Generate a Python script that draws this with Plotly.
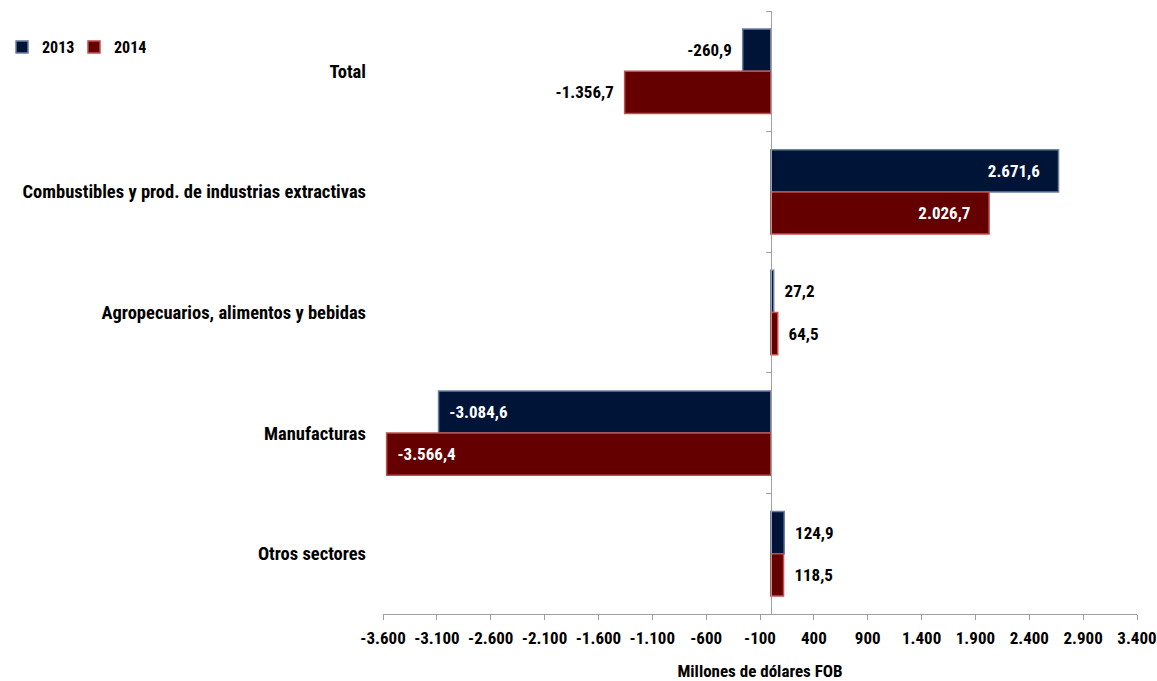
import plotly.graph_objects as go

categories = ["Total", "Combustibles y prod. de industrias extractivas",
              "Agropecuarios, alimentos y bebidas", "Manufacturas", "Otros sectores"]
v2013 = [-260.9, 2671.6, 27.2, -3084.6, 124.9]
v2014 = [-1356.7, 2026.7, 64.5, -3566.4, 118.5]
series_names = ["2013", "2014"]
tick_values = [-3600, -3100, -2600, -2100, -1600, -1100, -600, -100, 400, 900, 1400, 1900, 2400, 2900, 3400]
tick_labels = ["-3.600", "-3.100", "-2.600", "-2.100", "-1.600", "-1.100", "-600", "-100",
               "400", "900", "1.400", "1.900", "2.400", "2.900", "3.400"]
label_pos = ["outside", "inside", "outside", "inside", "outside"]

FONT = "Liberation Sans Narrow, Arial Narrow, Roboto Condensed, DejaVu Sans Condensed, sans-serif"
NB = "\u00a0"


def fmt(v):
    s = f"{v:,.1f}"
    return s.replace(",", "X").replace(".", ",").replace("X", ".")


def padded(v, pos):
    t = fmt(v)
    if pos == "inside":
        return t + NB * 4 if v >= 0 else NB * 2 + t
    return NB * 2 + t if v >= 0 else t + NB * 2


colors = ["#001438", "#640000"]
edge = ["#6b7ea6", "#c0504d"]

fig = go.Figure()
for name, vals, c, e in zip(series_names, [v2013, v2014], colors, edge):
    fig.add_trace(go.Bar(
        y=categories, x=vals, name=name, orientation="h",
        marker=dict(color=c, line=dict(color=e, width=1.5)),
        text=[padded(v, p) for v, p in zip(vals, label_pos)], textposition=label_pos,
        insidetextanchor="end",
        insidetextfont=dict(family=FONT, size=17, color="white", weight="bold"),
        outsidetextfont=dict(family=FONT, size=17, color="black", weight="bold"),
        cliponaxis=False, textangle=0,
    ))

# helper invisible trace for the vertical axis at zero
fig.add_trace(go.Scatter(x=[None], y=[None], yaxis="y2", showlegend=False, hoverinfo="skip"))

n = len(categories)
fig.update_layout(
    width=1157, height=681,
    margin=dict(l=383, r=20, t=11, b=67, autoexpand=False),
    plot_bgcolor="white", paper_bgcolor="white",
    barmode="group", bargap=0.3, bargroupgap=0,
    font=dict(family=FONT, size=16, color="black", weight="bold"),
    legend=dict(orientation="h", xref="container", yref="container",
                x=2/1157, y=1 - 30/681, xanchor="left", yanchor="top",
                font=dict(family=FONT, size=16, color="black", weight="bold"),
                itemwidth=30, entrywidth=27, bgcolor="rgba(0,0,0,0)"),
    xaxis=dict(range=[-3600, 3400], tickvals=tick_values, ticktext=tick_labels,
               showgrid=False, zeroline=False, showline=True, linecolor="#a0a0a0", linewidth=1,
               ticks="outside", ticklen=5, tickcolor="#a0a0a0", ticklabelstandoff=4,
               tickfont=dict(family=FONT, size=17, color="black", weight="bold"),
               title=dict(text="Millones de dólares FOB", standoff=17,
                          font=dict(family=FONT, size=17, color="black", weight="bold"))),
    yaxis=dict(categoryorder="array", categoryarray=categories, autorange="reversed",
               showgrid=False, showline=False, ticks="", ticklabelstandoff=16,
               tickfont=dict(family=FONT, size=18.5, color="black", weight="bold")),
    yaxis2=dict(overlaying="y", anchor="free", position=3600/7000, side="left",
                range=[n - 0.5, -0.5], tickvals=[i - 0.5 for i in range(n + 1)],
                showticklabels=False, showgrid=False, zeroline=False,
                showline=True, linecolor="#a0a0a0", linewidth=1,
                ticks="outside", ticklen=5, tickcolor="#a0a0a0"),
)

fig.write_html("out.html", config={"displayModeBar": False},
               post_script="document.body.style.margin='0px';")
